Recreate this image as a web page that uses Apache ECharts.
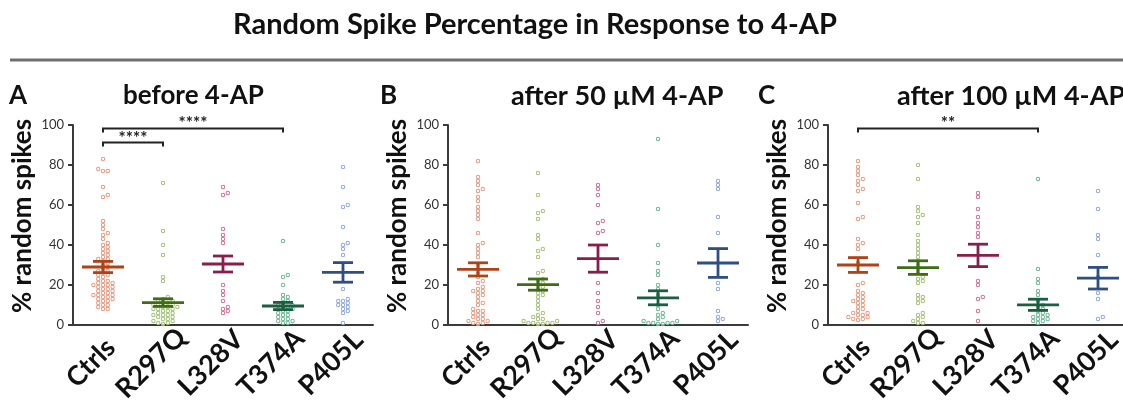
<!DOCTYPE html>
<html><head><meta charset="utf-8">
<script src="https://cdn.jsdelivr.net/npm/echarts@6/dist/echarts.min.js"></script>
<style>html,body{margin:0;padding:0;background:#fff}#c{width:1123px;height:401px}</style>
</head><body><div id="c"></div>
<script>
// ---------- data ----------
const mainTitle = 'Random Spike Percentage in Response to 4-AP';
const categories = ['Ctrls', 'R297Q', 'L328V', 'T374A', 'P405L'];
const yTicks = [0, 20, 40, 60, 80, 100];
const panelLetters = ['A', 'B', 'C'];
const panelTitles = ['before 4-AP', 'after 50 µM 4-AP', 'after 100 µM 4-AP'];
const yAxisName = '% random spikes';

// Panel A – before 4-AP
const A_Ctrls = [83, 78, 77, 77, 69, 65, 64, 52, 50, 48, 46, 45, 43, 41, 40, 39, 38, 37, 36, 35, 34, 33, 33, 32, 31, 30, 29, 28, 27, 27, 26, 25, 25, 24, 23, 22, 22, 21, 21, 20, 20, 20, 19, 19, 18, 18, 17, 17, 16, 16, 15, 15, 15, 14, 14, 13, 13, 12, 12, 11, 10, 10, 9, 8, 8];
const A_R297Q = [71, 47, 40, 35, 24, 22, 14, 13, 12, 12, 11, 11, 10, 10, 10, 9, 9, 9, 8, 8, 8, 7, 7, 6, 6, 5, 5, 5, 4, 4, 3, 3, 2, 2, 1, 1, 0.5];
const A_L328V = [69, 66, 65, 48, 45, 43, 41, 20, 17, 15, 12, 9, 8, 7, 6];
const A_T374A = [42, 25, 24, 20, 15, 14, 13, 12, 11, 10, 10, 9, 9, 8, 8, 7, 7, 6, 5, 5, 4, 3, 3, 2, 2, 1, 1];
const A_P405L = [79, 69, 60, 59, 49, 41, 40, 38, 35, 18, 13, 12, 12, 11, 10, 10, 9, 8, 7, 6, 1];

// Panel B – after 50 µM 4-AP
const B_Ctrls = [82, 74, 72, 70, 68, 67, 64, 62, 59, 57, 55, 53, 46, 41, 40, 38, 36, 34, 30, 28, 26, 24, 22, 21, 19, 18, 17, 17, 16, 15, 14, 12, 11, 10, 8, 7, 7, 6, 5, 5, 4, 3, 3, 2, 2, 1, 1, 0.5];
const B_R297Q = [76, 65, 57, 56, 53, 45, 43, 38, 37, 34, 27, 26, 23, 22, 21, 20, 19, 18, 17, 16, 15, 14, 12, 10, 8, 6, 5, 4, 3, 3, 2, 2, 1, 1, 1, 1, 0.5, 0.5];
const B_L328V = [70, 68, 65, 60, 52, 51, 47, 46, 21, 16, 12, 9, 6, 2, 1];
const B_T374A = [93, 58, 40, 31, 27, 25, 20, 18, 15, 10, 8, 6, 5, 4, 3, 2, 2, 1, 1, 1, 1, 0.5, 0.5];
const B_P405L = [72, 70, 68, 54, 46, 21, 18, 7, 4, 3, 2];

// Panel C – after 100 µM 4-AP
const C_Ctrls = [82, 79, 77, 75, 73, 72, 70, 68, 67, 61, 54, 53, 43, 41, 40, 38, 31, 21, 20, 17, 16, 15, 14, 13, 12, 12, 11, 10, 9, 8, 7, 6, 6, 5, 5, 4, 4, 3, 3, 2.5];
const C_R297Q = [80, 73, 59, 57, 55, 54, 51, 45, 42, 40, 38, 36, 34, 32, 30, 28, 26, 24, 23, 22, 21, 15, 14, 13, 12, 11, 6, 5, 4, 3, 2, 1, 1];
const C_L328V = [66, 64, 58, 54, 51, 49, 46, 44, 22, 20, 14, 13, 7, 2];
const C_T374A = [73, 28, 23, 21, 17, 15, 12, 10, 9, 8, 7, 6, 5, 5, 4, 4, 3, 3, 2, 2, 1];
const C_P405L = [67, 58, 45, 43, 35, 24, 16, 13, 4, 3];

// mean ± SEM
const A_mean = [29, 11.2, 30.5, 9.5, 26.3];
const A_sem  = [2.8, 1.9, 4.0, 1.8, 4.9];
const B_mean = [27.8, 20.2, 33.2, 13.6, 31.0];
const B_sem  = [3.3, 2.8, 6.8, 3.5, 7.2];
const C_mean = [30.0, 28.7, 34.8, 10.1, 23.4];
const C_sem  = [3.7, 3.4, 5.6, 2.8, 5.4];

// significance brackets: [fromCategory, toCategory, level, stars]
const A_sig = [[0, 3, 98.3, '****'], [0, 1, 91.2, '****']];
const B_sig = [];
const C_sig = [[0, 3, 98.3, '**']];

// ---------- styling ----------
const dotColors = ['#e59a80', '#a3c078', '#cf6f98', '#6cb893', '#8ea9dc'];
const barColors = ['#ad4419', '#3e6d16', '#8a1d4c', '#1b5e40', '#2f4f82'];
const panels = [
  {vals: [A_Ctrls, A_R297Q, A_L328V, A_T374A, A_P405L], mean: A_mean, sem: A_sem, sig: A_sig, left: 73},
  {vals: [B_Ctrls, B_R297Q, B_L328V, B_T374A, B_P405L], mean: B_mean, sem: B_sem, sig: B_sig, left: 448},
  {vals: [C_Ctrls, C_R297Q, C_L328V, C_T374A, C_P405L], mean: C_mean, sem: C_sem, sig: C_sig, left: 828}
];
const GRID_TOP = 125, GRID_H = 200, GRID_W = 300;
const PX_PER_UNIT = GRID_H / 100;
const DOT = 3.4;

// simple deterministic beeswarm: horizontal pixel offsets so dots don't overlap
function swarm(vals) {
  const idx = vals.map((v, i) => i).sort((a, b) => vals[a] - vals[b]);
  const placed = [];
  const off = new Array(vals.length).fill(0);
  const sep = DOT + 0.6;
  idx.forEach(i => {
    const y = vals[i] * PX_PER_UNIT;
    let chosen = 0;
    for (let k = 0; k < 60; k++) {
      const cand = (k % 2 === 1 ? 1 : -1) * Math.ceil(k / 2) * (sep * 0.6);
      const ok = placed.every(p => {
        const dy = p.y - y, dx = p.x - cand;
        return dx * dx + dy * dy >= sep * sep;
      });
      if (ok) { chosen = cand; break; }
    }
    placed.push({x: chosen, y});
    off[i] = chosen;
  });
  return off;
}

const font = 'Lato';
const grids = [], xAxes = [], yAxes = [], series = [], titles = [];

titles.push({text: mainTitle, left: 228, top: 5,
  textStyle: {fontFamily: font, fontWeight: 'bold', fontSize: 29, color: '#111'}});

const letterLeft = [4, 375, 753];
const subLeft = [118, 506, 892];
panels.forEach((p, pi) => {
  titles.push({text: panelLetters[pi], left: letterLeft[pi], top: 78,
    textStyle: {fontFamily: font, fontWeight: 'bold', fontSize: 26, color: '#111'}});
  titles.push({text: panelTitles[pi], left: subLeft[pi], top: 78,
    textStyle: {fontFamily: font, fontWeight: 'bold', fontSize: pi === 0 ? 26 : 27, color: '#111'}});

  grids.push({left: p.left, top: GRID_TOP, width: GRID_W, height: GRID_H,
    containLabel: false, outerBoundsMode: 'none'});
  xAxes.push({type: 'category', gridIndex: pi, data: categories,
    axisLine: {lineStyle: {color: '#3a3a3a', width: 2}},
    axisTick: {alignWithLabel: true, length: 5, lineStyle: {color: '#3a3a3a', width: 2}},
    axisLabel: {rotate: 45, interval: 0, margin: 26, align: 'center', verticalAlign: 'middle',
      padding: [0, 34, 0, 0],
      fontFamily: font, fontWeight: 'bold', fontSize: 27, color: '#111'},
    splitLine: {show: false}});
  yAxes.push({type: 'value', gridIndex: pi, min: 0, max: 100, interval: 20,
    name: yAxisName, nameLocation: 'middle', nameGap: 37, nameRotate: 90,
    nameTextStyle: {fontFamily: font, fontWeight: 'bold', fontSize: 26, color: '#111', padding: [0, 0, 0, 18]},
    axisLine: {show: true, lineStyle: {color: '#3a3a3a', width: 2}},
    axisTick: {show: true, length: 5, lineStyle: {color: '#3a3a3a', width: 2}},
    axisLabel: {fontFamily: font, fontSize: 13, color: '#333', margin: 9,
      formatter: v => (yTicks.indexOf(v) >= 0 ? String(v) : '')},
    splitLine: {show: false}});

  // dots
  p.vals.forEach((arr, ci) => {
    const off = swarm(arr);
    series.push({type: 'scatter', xAxisIndex: pi, yAxisIndex: pi, symbol: 'circle', symbolSize: DOT,
      silent: true, z: 2,
      itemStyle: {color: 'rgba(255,255,255,0.6)', borderColor: dotColors[ci], borderWidth: 1, opacity: 1},
      data: arr.map((v, k) => ({value: [ci, v], symbolOffset: [off[k], 0]}))});
  });

  // mean ± SEM
  series.push({type: 'custom', xAxisIndex: pi, yAxisIndex: pi, z: 5, silent: true,
    data: p.mean.map((m, ci) => [ci, m, p.sem[ci]]),
    renderItem: (params, api) => {
      const ci = api.value(0), m = api.value(1), s = api.value(2);
      const c = api.coord([ci, m]);
      const t = api.coord([ci, m + s]);
      const b = api.coord([ci, m - s]);
      const col = barColors[ci];
      const st = {stroke: col, lineWidth: 2.8};
      return {type: 'group', children: [
        {type: 'line', shape: {x1: c[0] - 21, y1: c[1], x2: c[0] + 21, y2: c[1]}, style: st},
        {type: 'line', shape: {x1: c[0], y1: t[1], x2: c[0], y2: b[1]}, style: st},
        {type: 'line', shape: {x1: c[0] - 10, y1: t[1], x2: c[0] + 10, y2: t[1]}, style: st},
        {type: 'line', shape: {x1: c[0] - 10, y1: b[1], x2: c[0] + 10, y2: b[1]}, style: st}
      ]};
    }});

  // significance brackets
  if (p.sig.length) {
    series.push({type: 'custom', xAxisIndex: pi, yAxisIndex: pi, z: 6, silent: true, clip: false,
      data: p.sig.map(s => [s[0], s[1], s[2]]),
      renderItem: (params, api) => {
        const a = api.coord([api.value(0), api.value(2)]);
        const b = api.coord([api.value(1), api.value(2)]);
        const stars = p.sig[params.dataIndex][3];
        return {type: 'group', children: [
          {type: 'polyline', shape: {points: [[a[0], a[1] + 4], [a[0], a[1]], [b[0], b[1]], [b[0], b[1] + 4]]},
            style: {stroke: '#222', lineWidth: 2, fill: null}},
          {type: 'text', style: {text: stars, x: (a[0] + b[0]) / 2, y: a[1] + 4, align: 'center', verticalAlign: 'bottom',
            font: 'bold 17px Lato', fill: '#222'}}
        ]};
      }});
  }
});

const chart = echarts.init(document.getElementById('c'), null, {renderer: 'canvas'});
chart.setOption({
  animation: false,
  backgroundColor: '#fff',
  title: titles,
  grid: grids, xAxis: xAxes, yAxis: yAxes, series,
  graphic: [{type: 'line', shape: {x1: 10, y1: 60, x2: 1123, y2: 60}, style: {stroke: '#6e6e6e', lineWidth: 3}}]
});
</script></body></html>
